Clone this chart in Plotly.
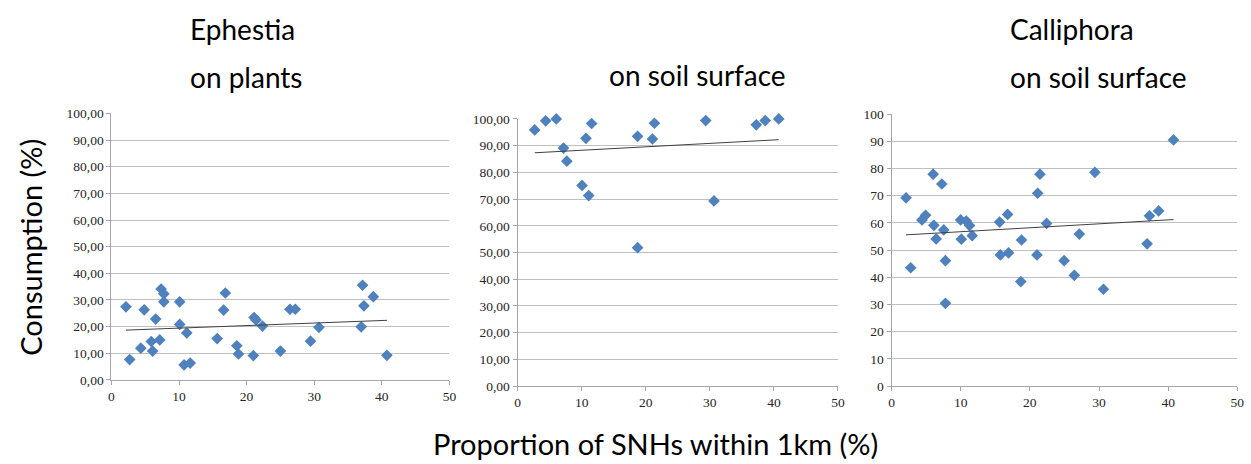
import numpy as np
import plotly.graph_objects as go

# Ephestia eggs exposed on plants
eph_plants_x = [2.15, 2.7, 4.35, 4.85, 5.9, 6.1, 6.55, 7.15, 7.35, 7.75, 7.75, 10.1, 10.1,
                10.75, 11.15, 11.65, 15.65, 16.6, 16.85, 18.55, 18.8, 21.0, 21.1, 21.4,
                22.35, 25.0, 26.4, 27.2, 29.45, 30.7, 36.95, 37.15, 37.35, 38.75, 40.75]
eph_plants_y = [27.4, 7.6, 11.9, 26.3, 14.4, 10.8, 22.8, 15.0, 34.1, 32.3, 29.3, 29.3, 20.8,
                5.6, 17.6, 6.3, 15.5, 26.2, 32.6, 12.8, 9.7, 9.1, 23.4, 22.5,
                20.2, 10.8, 26.5, 26.5, 14.5, 19.7, 19.9, 35.5, 27.8, 31.2, 9.2]

# Ephestia eggs exposed on the soil surface
eph_soil_x = [2.68, 4.39, 6.04, 7.17, 7.69, 10.06, 10.68, 11.1, 11.56, 18.73, 18.73,
              21.05, 21.36, 29.36, 30.65, 37.25, 38.65, 40.76]
eph_soil_y = [95.9, 99.3, 100.0, 89.1, 84.2, 75.1, 92.75, 71.3, 98.3, 93.5, 51.8,
              92.5, 98.4, 99.4, 69.3, 97.8, 99.4, 100.0]

# Calliphora pupae exposed on the soil surface
cal_soil_x = [2.1, 2.77, 4.4, 4.92, 6.02, 6.12, 6.45, 7.27, 7.55, 7.79, 7.79, 9.99, 10.09,
              10.8, 11.28, 11.66, 15.63, 15.73, 16.78, 16.92, 18.79, 18.69, 21.03, 21.13,
              21.46, 22.42, 24.95, 26.43, 27.15, 29.4, 30.64, 36.95, 37.29, 38.62, 40.77]
cal_soil_y = [69.2, 43.5, 61.1, 62.8, 77.9, 59.1, 54.1, 74.3, 57.4, 46.1, 30.4, 61.1, 54.0,
              60.7, 59.0, 55.3, 60.3, 48.2, 63.1, 49.0, 53.7, 38.4, 48.2, 70.9,
              77.9, 59.8, 46.1, 40.7, 55.9, 78.6, 35.6, 52.3, 62.6, 64.4, 90.5]

x_ticks = [0, 10, 20, 30, 40, 50]
y_ticks = [0, 10, 20, 30, 40, 50, 60, 70, 80, 90, 100]

W, H = 1251, 464
MARKER = "#4F81BD"
AXIS = "#A6A6A6"
GRID = "#BFBFBF"
TICK_FONT = dict(family="'Liberation Serif', 'Times New Roman', serif", size=13.5,
                 color="#262626")
TITLE_FONT = dict(family="Lato", size=28, color="#000000")
AXIS_TITLE_FONT = dict(family="Lato", size=29, color="#000000")

# plot areas in pixels: (left, right, top, bottom)
boxes = [(109.3, 450.0, 110.0, 385.3),
         (518.7, 841.7, 115.7, 391.7),
         (895.7, 1244.3, 110.7, 391.7)]
panels = [(eph_plants_x, eph_plants_y, ".2f"),
          (eph_soil_x, eph_soil_y, ".2f"),
          (cal_soil_x, cal_soil_y, "d")]

fig = go.Figure()
for i, ((xs, ys, yfmt), (l, r, t, b)) in enumerate(zip(panels, boxes), start=1):
    sfx = "" if i == 1 else str(i)
    xa, ya = "x" + sfx, "y" + sfx
    fig.add_trace(go.Scatter(
        x=xs, y=ys, mode="markers", xaxis=xa, yaxis=ya, cliponaxis=False,
        marker=dict(symbol="diamond", size=9, color=MARKER, line=dict(width=0)),
        showlegend=False, hoverinfo="x+y"))
    # linear trend line fitted to the panel's points
    slope, icpt = np.polyfit(xs, ys, 1)
    x_fit = np.array([min(xs), max(xs)])
    fig.add_trace(go.Scatter(
        x=x_fit, y=slope * x_fit + icpt, mode="lines", xaxis=xa, yaxis=ya,
        line=dict(color="#404040", width=1), showlegend=False, hoverinfo="skip"))

    common = dict(showline=True, linecolor=AXIS, linewidth=1, ticks="outside",
                  ticklen=4, tickcolor=AXIS, tickfont=TICK_FONT, zeroline=False)
    fig.update_layout({
        "xaxis" + sfx: dict(domain=[l / W, r / W], anchor=ya, range=[0, 50],
                            tickvals=x_ticks, showgrid=False, **common),
        "yaxis" + sfx: dict(domain=[1 - b / H, 1 - t / H], anchor=xa, range=[0, 100],
                            tickvals=y_ticks, tickformat=yfmt, showgrid=True,
                            gridcolor=GRID, gridwidth=1, **common),
    })

texts = [
    ("Ephestia", 186, 23),
    ("on plants", 186, 72),
    ("on soil surface", 609, 70),
    ("Calliphora", 1013, 23),
    ("on soil surface", 1013, 72),
]
for txt, px, py in texts:
    fig.add_annotation(text=txt, x=px / W, y=1 - py / H, xref="paper", yref="paper",
                       xanchor="left", yanchor="middle", showarrow=False, font=TITLE_FONT)

fig.add_annotation(text="Proportion of SNHs within 1km (%)", x=658 / W, y=1 - 451 / H,
                   xref="paper", yref="paper", xanchor="center", yanchor="middle",
                   showarrow=False, font=AXIS_TITLE_FONT)
fig.add_annotation(text="Consumption (%)", x=28 / W, y=1 - 248 / H,
                   xref="paper", yref="paper", xanchor="center", yanchor="middle",
                   textangle=-90, showarrow=False, font=AXIS_TITLE_FONT)

fig.update_layout(width=W, height=H, autosize=False,
                  margin=dict(l=0, r=0, t=0, b=0),
                  paper_bgcolor="white", plot_bgcolor="white",
                  separators=",.")

fig.write_html("out.html")
